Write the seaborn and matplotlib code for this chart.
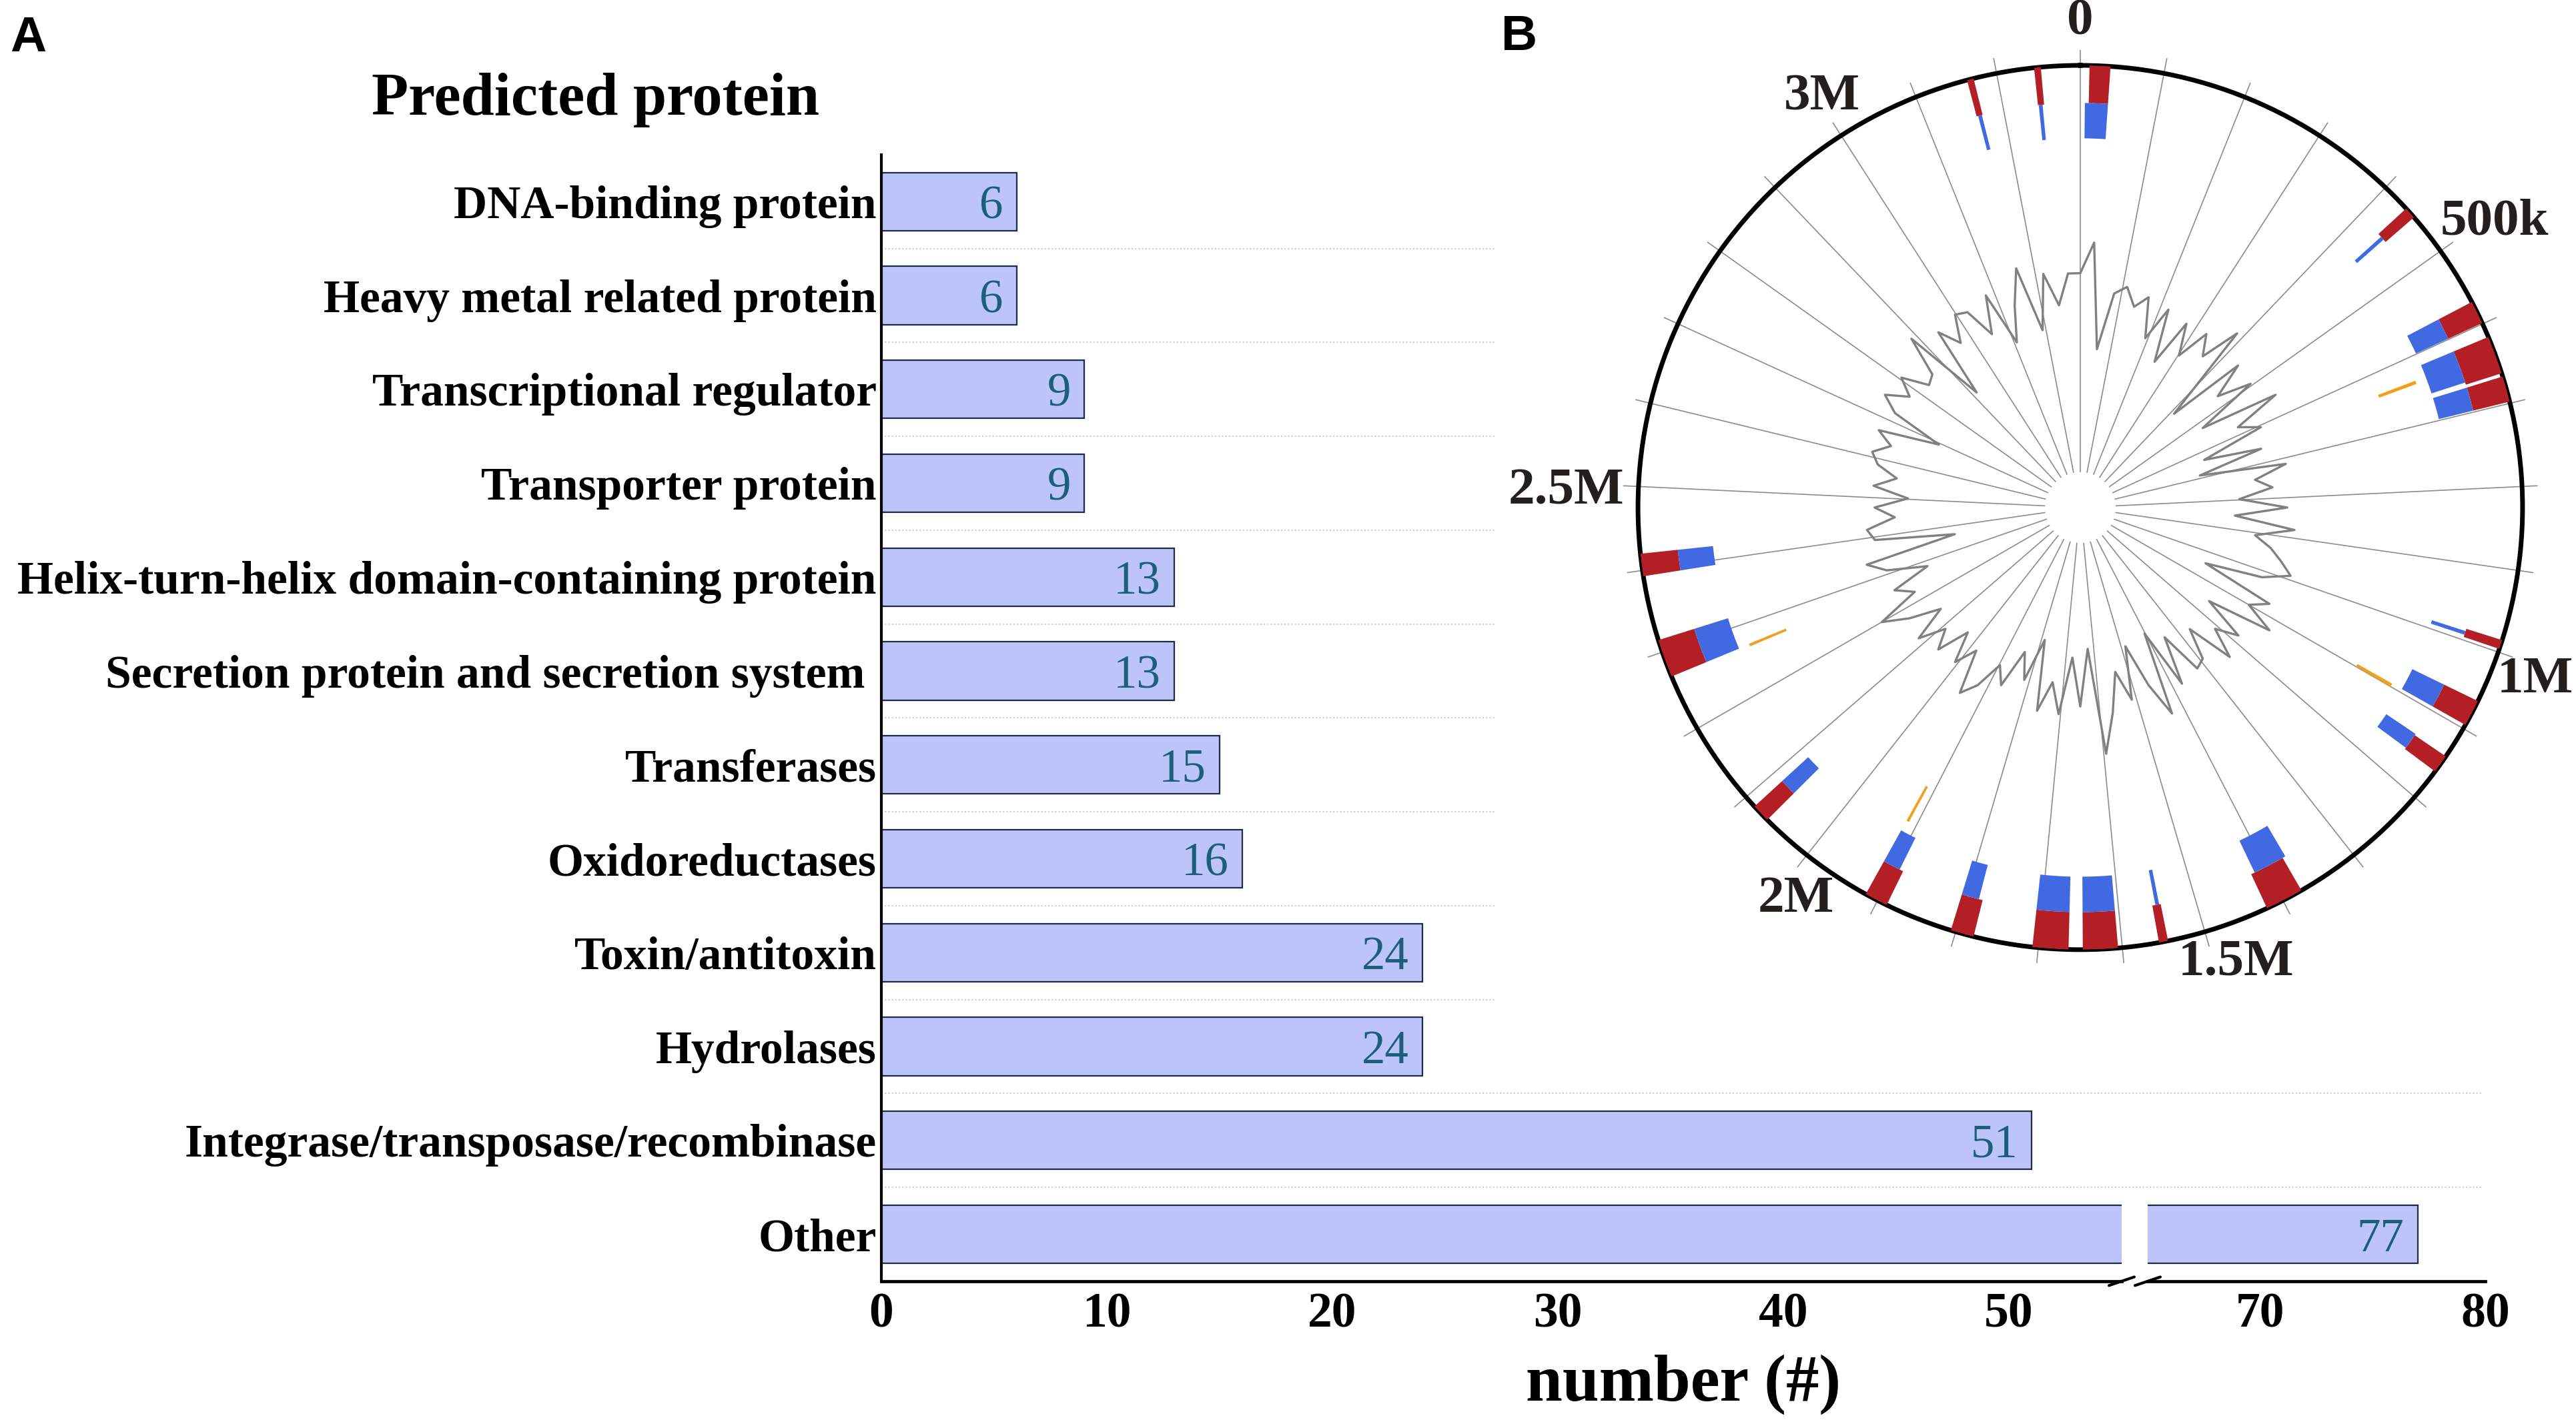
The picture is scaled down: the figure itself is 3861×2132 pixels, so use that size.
import numpy as np
import pandas as pd
import seaborn as sns
import matplotlib.pyplot as plt
from matplotlib.patches import Rectangle

# ---- panel A data ----
categories = ["DNA-binding protein", "Heavy metal related protein", "Transcriptional regulator",
              "Transporter protein", "Helix-turn-helix domain-containing protein",
              "Secretion protein and secretion system ", "Transferases", "Oxidoreductases",
              "Toxin/antitoxin", "Hydrolases", "Integrase/transposase/recombinase", "Other"]
counts = [6, 6, 9, 9, 13, 13, 15, 16, 24, 24, 51, 77]
left_ticks = [0, 10, 20, 30, 40, 50]
right_ticks = [70, 80]

# ---- panel B data (kb) ----
genome_kb = 3300
tick_kb = list(range(0, 3300, 100))
scale_labels = ["0", "500k", "1M", "1.5M", "2M", "2.5M", "3M"]
scale_label_kb = [0, 500, 1000, 1500, 2000, 2500, 3000]

red_start_kb = [11, 3245, 3164, 435, 571, 617, 667, 985, 1063, 1139, 1375, 1545, 1605, 1664, 1778, 1888, 2063, 2269, 2393]
red_end_kb = [36, 3253, 3172, 449, 599, 663, 698, 996, 1095, 1161, 1421, 1556, 1647, 1707, 1806, 1916, 2085, 2315, 2420]
blue_start_kb = [6, 3246, 3166, 440, 571, 617, 667, 988, 1063, 1137, 1371, 1547, 1605, 1664, 1783, 1893, 2063, 2269, 2393]
blue_end_kb = [36, 3251, 3171, 445, 599, 660, 698, 993, 1095, 1159, 1416, 1552, 1647, 1707, 1806, 1916, 2085, 2315, 2420]
orange_start_kb = [635, 1095, 1912, 2266]
orange_end_kb = [640, 1100, 1916, 2270]

gc_values = [0.53, 0.60, 0.36, 0.49, 0.51, 0.47, 0.50, 0.41, 0.49, 0.37,
             0.48, 0.41, 0.485, 0.44, 0.53, 0.30, 0.48, 0.40, 0.476, 0.33,
             0.51, 0.40, 0.447, 0.30, 0.43, 0.28, 0.475, 0.40, 0.437, 0.36,
             0.468, 0.35, 0.487, 0.40, 0.44, 0.47, 0.50, 0.44, 0.31, 0.48,
             0.44, 0.51, 0.36, 0.46, 0.41, 0.478, 0.37, 0.44, 0.45, 0.35,
             0.46, 0.32, 0.51, 0.43, 0.33, 0.45, 0.38, 0.47, 0.56, 0.32,
             0.45, 0.34, 0.47, 0.40, 0.47, 0.31, 0.41, 0.35, 0.44, 0.40,
             0.464, 0.50, 0.40, 0.45, 0.38, 0.454, 0.41, 0.47, 0.39, 0.46,
             0.518, 0.42, 0.46, 0.37, 0.46, 0.50, 0.29, 0.47, 0.485, 0.42,
             0.465, 0.39, 0.47, 0.42, 0.468, 0.487, 0.45, 0.488, 0.35, 0.47,
             0.51, 0.46, 0.50, 0.44, 0.45, 0.54, 0.35, 0.51, 0.46, 0.52,
             0.51, 0.44, 0.525, 0.40, 0.48, 0.56, 0.41, 0.535, 0.46, 0.53]

bar_fill = "#bdc4fa"
bar_edge = "#1f2a44"
value_color = "#1b5e7e"

sns.set_theme(style="white")
plt.rcParams['font.family'] = ['Liberation Serif', 'DejaVu Serif']
plt.rcParams['text.color'] = 'black'

fig = plt.figure(figsize=(38.62, 21.32), dpi=100)
ax_l = fig.add_axes([0.3420, 0.0990, 0.4814, 0.7922])
ax_r = fig.add_axes([0.8335, 0.0990, 0.1310, 0.7922])

df = pd.DataFrame({"category": categories, "count": counts})
for ax in (ax_l, ax_r):
    sns.barplot(data=df, x="count", y="category", orient="h", color=bar_fill,
                edgecolor=bar_edge, linewidth=1.6, width=0.62, saturation=1, ax=ax, zorder=2)
    ax.set_ylim(len(categories) - 0.5, -0.5)
    ax.set_xlabel("")
    ax.set_ylabel("")
    ax.set_facecolor("none")
    ax.spines["top"].set_visible(False)
    ax.spines["right"].set_visible(False)
    ax.spines["bottom"].set_linewidth(3.4)
    ax.spines["bottom"].set_color("black")
    ax.tick_params(axis="both", length=0, labelsize=53, colors="black")
    ax.tick_params(axis="x", pad=12)

ax_l.set_xlim(0, 55)
ax_r.set_xlim(65, 80)
ax_l.set_xticks(left_ticks)
ax_r.set_xticks(right_ticks)
ax_r.spines["left"].set_visible(False)
ax_r.set_yticks([])
ax_l.spines["left"].set_linewidth(3)
ax_l.spines["left"].set_color("black")
ax_l.tick_params(axis="y", labelsize=50, pad=5)
for lab in ax_l.get_xticklabels() + ax_l.get_yticklabels() + ax_r.get_xticklabels():
    lab.set_fontweight("bold")

# value labels
for i, v in enumerate(counts):
    target = ax_l if v <= 55 else ax_r
    target.text(v - 0.6, i, str(v), ha="right", va="center_baseline", fontsize=51, color=value_color, zorder=3)

# dotted separators
sep_y = [i + 0.5 for i in range(len(categories) - 1)]
ax_l.hlines(sep_y, 0, 1.2916, transform=ax_l.get_yaxis_transform(), colors="#cccccc",
            linestyles=(0, (1, 1.5)), linewidth=1.5, clip_on=False, zorder=0.5)

# axis break marks
ax_l.plot([1 - 0.0102, 1 + 0.0102], [-0.0038, 0.0038], transform=ax_l.transAxes,
          color="black", lw=3, clip_on=False)
ax_r.plot([-0.0375, 0.0375], [-0.0038, 0.0038], transform=ax_r.transAxes,
          color="black", lw=3, clip_on=False)

# white background of panel B
fig.add_artist(Rectangle((2243 / 3862, 1 - 1560 / 2132), 1, 1, transform=fig.transFigure,
                         facecolor="white", edgecolor="none", zorder=1))

# ---- panel B: circular genome map ----
axp = fig.add_axes([0.6357, 0.3321, 0.3433, 0.6220], projection="polar")
axp.set_zorder(2)
axp.set_theta_zero_location("N")
axp.set_theta_direction(-1)
axp.set_ylim(0, 1)
axp.grid(False)
axp.set_xticks([])
axp.set_yticks([])
axp.set_facecolor("white")
axp.spines["polar"].set_linewidth(5)
axp.spines["polar"].set_color("black")


def to_theta(kb):
    return np.asarray(kb, dtype=float) / genome_kb * 2 * np.pi


axp.vlines(to_theta(tick_kb), 0.08, 1.035, colors="#8c8c8c", lw=1.2, clip_on=False, zorder=1)

gc_step = genome_kb / len(gc_values)
gc_theta = to_theta(np.arange(len(gc_values)) * gc_step)
axp.plot(np.append(gc_theta, gc_theta[0]), np.append(gc_values, gc_values[0]),
         color="#808080", lw=2.4, zorder=2)


def draw_track(starts, ends, r0, r1, color):
    s = np.asarray(starts, dtype=float)
    e = np.asarray(ends, dtype=float)
    axp.bar(to_theta((s + e) / 2), r1 - r0, width=to_theta(e - s), bottom=r0,
            color=color, linewidth=0, zorder=3)


draw_track(red_start_kb, red_end_kb, 0.915, 1.0, "#b31f24")
draw_track(blue_start_kb, blue_end_kb, 0.835, 0.915, "#4169e1")
draw_track(orange_start_kb, orange_end_kb, 0.72, 0.81, "#f0a020")

# scale labels: placement angle (deg) and radius for each label
label_deg = [0, 55.4, 110.8, 161.1, 216.0, 271.8, 327.8]
label_r = [1.098, 1.137, 1.10, 1.087, 1.095, 1.163, 1.096]
for lab, deg, r in zip(scale_labels, label_deg, label_r):
    axp.text(np.deg2rad(deg), r, lab, ha="center", va="center", fontsize=57,
             fontweight="bold", color="#231f1d", clip_on=False)

# titles and panel letters
fig.text(0.231, 1 - 172 / 2132, "Predicted protein", ha="center", va="baseline",
         fontsize=65, fontweight="bold", color="black")
fig.text(0.6533, 1 - 2100 / 2132, "number (#)", ha="center", va="baseline",
         fontsize=71, fontweight="bold", color="black")
fig.text(15 / 3862, 1 - 77 / 2132, "A", ha="left", va="baseline", fontsize=54,
         fontweight="bold", color="black", family=["Liberation Sans", "DejaVu Sans"])
fig.text(2250 / 3862, 1 - 75 / 2132, "B", ha="left", va="baseline", fontsize=54,
         fontweight="bold", color="black", family=["Liberation Sans", "DejaVu Sans"], zorder=4)

fig.savefig("out.png", dpi=100)
